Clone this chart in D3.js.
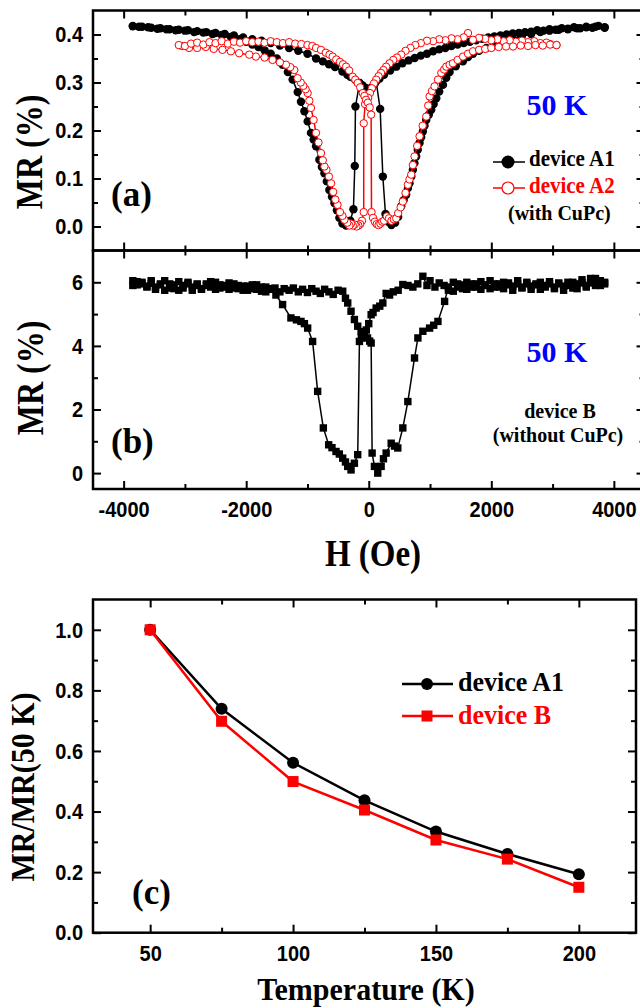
<!DOCTYPE html>
<html>
<head>
<meta charset="utf-8">
<script src="https://cdn.jsdelivr.net/npm/d3@7/dist/d3.min.js"></script>
<style>
body { margin: 0; background: #fff; }
svg { display: block; }
</style>
</head>
<body>
<div class="chart"></div>
<script>
// ---- data ----
// panel (a): device A1, field H (Oe) vs MR (%)
const a1Down = [[3850,.415],[3750,.418],[3650,.414],[3550,.416],[3450,.413],[3350,.415],[3250,.411],[3150,.413],[3050,.41],[2950,.411],[2850,.408],[2750,.409],[2650,.406],[2550,.405],[2450,.403],[2350,.402],[2250,.4],[2150,.398],[2050,.396],[1950,.394],[1850,.391],[1750,.388],[1650,.385],[1550,.382],[1450,.379],[1350,.376],[1250,.372],[1150,.369],[1050,.365],[950,.36],[850,.356],[750,.351],[650,.346],[550,.34],[450,.333],[350,.325],[250,.316],[175,.308],[100,.298],[50,.29],[0,.283],[-50,.288],[-100,.294],[-150,.299],[-217,.25],[-228,.126],[-250,.036],[-300,.012],[-370,.002],[-430,.006],[-480,.018],[-520,.034],[-561,.049],[-600,.062],[-643,.076],[-685,.094],[-724,.111],[-765,.124],[-806,.139],[-860,.167],[-900,.181],[-943,.195],[-997,.219],[-1050,.24],[-1106,.26],[-1160,.28],[-1243,.306],[-1320,.322],[-1406,.337],[-1500,.35],[-1600,.36],[-1700,.367],[-1800,.374],[-1900,.379],[-2000,.385],[-2100,.39],[-2250,.395],[-2400,.399],[-2550,.401],[-2700,.404],[-2850,.405],[-3000,.408],[-3150,.409],[-3300,.411],[-3450,.412],[-3600,.415],[-3750,.416],[-3850,.418]];
const a1Up = [[-3850,.417],[-3700,.416],[-3550,.414],[-3400,.413],[-3250,.411],[-3100,.41],[-2950,.409],[-2800,.407],[-2650,.405],[-2500,.403],[-2350,.401],[-2200,.398],[-2050,.394],[-1900,.39],[-1750,.387],[-1600,.382],[-1450,.377],[-1300,.372],[-1150,.366],[-1000,.36],[-860,.35],[-750,.344],[-650,.338],[-550,.332],[-430,.323],[-350,.316],[-300,.312],[-225,.306],[-152,.299],[-100,.293],[-50,.288],[0,.282],[50,.288],[121,.302],[186,.245],[230,.104],[273,.026],[320,.01],[370,.003],[430,.008],[480,.02],[530,.042],[570,.055],[611,.066],[640,.08],[665,.09],[695,.104],[720,.118],[745,.132],[774,.146],[800,.16],[829,.174],[855,.186],[883,.198],[910,.21],[938,.222],[980,.233],[1020,.243],[1060,.255],[1102,.267],[1150,.281],[1211,.295],[1265,.31],[1320,.322],[1420,.334],[1536,.344],[1620,.353],[1700,.36],[1800,.366],[1920,.372],[2050,.378],[2200,.385],[2350,.391],[2500,.397],[2650,.401],[2800,.405],[2950,.408],[3100,.41],[3250,.412],[3400,.413],[3550,.415],[3700,.416],[3850,.414]];
// panel (a): device A2 (with CuPc)
const a2Down = [[3064,.378],[2960,.38],[2900,.383],[2800,.382],[2700,.386],[2600,.384],[2500,.387],[2400,.385],[2300,.388],[2200,.386],[2100,.39],[2000,.388],[1900,.391],[1800,.393],[1700,.389],[1619,.403],[1550,.394],[1450,.39],[1350,.392],[1250,.388],[1150,.39],[1050,.386],[950,.387],[850,.382],[760,.378],[680,.372],[600,.366],[530,.358],[460,.352],[400,.347],[340,.34],[284,.333],[240,.326],[200,.32],[160,.313],[121,.306],[85,.298],[50,.288],[20,.278],[-10,.268],[-40,.262],[-60,.255],[-82,.215],[-82,.03],[-110,.012],[-140,.005],[-170,.002],[-200,0],[-230,.004],[-260,.002],[-290,.006],[-316,.002],[-350,.008],[-397,.014],[-430,.022],[-470,.03],[-510,.045],[-545,.056],[-580,.072],[-615,.09],[-650,.104],[-690,.118],[-724,.125],[-750,.138],[-779,.153],[-820,.175],[-860,.195],[-900,.222],[-943,.247],[-970,.262],[-997,.278],[-1030,.286],[-1068,.293],[-1110,.3],[-1161,.309],[-1215,.326],[-1280,.332],[-1351,.337],[-1450,.342],[-1570,.347],[-1700,.352],[-1842,.354],[-1950,.358],[-2115,.361],[-2250,.365],[-2387,.368],[-2530,.37],[-2660,.374],[-2800,.372],[-2932,.372],[-3050,.376]];
const a2Up = [[-3100,.378],[-3000,.376],[-2900,.381],[-2800,.383],[-2700,.379],[-2600,.384],[-2500,.382],[-2400,.386],[-2300,.381],[-2200,.385],[-2100,.383],[-2000,.386],[-1900,.384],[-1800,.385],[-1700,.383],[-1600,.386],[-1500,.384],[-1400,.382],[-1300,.384],[-1200,.381],[-1100,.38],[-1000,.378],[-920,.376],[-860,.372],[-780,.368],[-700,.362],[-640,.358],[-589,.354],[-530,.348],[-470,.343],[-420,.338],[-370,.333],[-320,.325],[-262,.312],[-220,.306],[-180,.299],[-140,.29],[-98,.278],[-70,.272],[-45,.264],[-15,.258],[15,.248],[39,.233],[45,.03],[70,.018],[100,.01],[130,.005],[160,.003],[190,.006],[220,.01],[250,.012],[295,.021],[330,.017],[370,.012],[410,.015],[448,.017],[480,.028],[520,.04],[556,.052],[600,.07],[638,.087],[665,.098],[693,.108],[720,.128],[747,.146],[790,.168],[829,.188],[880,.21],[938,.229],[970,.252],[993,.271],[1030,.282],[1074,.292],[1130,.306],[1184,.32],[1230,.327],[1265,.333],[1320,.337],[1374,.34],[1450,.347],[1538,.354],[1620,.36],[1701,.365],[1800,.368],[1900,.37],[2000,.372],[2120,.374],[2240,.375],[2355,.375],[2480,.377],[2600,.376],[2720,.378],[2840,.377],[2960,.379],[3064,.378]];
// panel (b): device B (without CuPc)
const bDown = [[3850,5.95],[3780,6.05],[3700,5.9],[3620,6.12],[3550,5.85],[3480,5.98],[3400,5.8],[3330,6.0],[3250,5.9],[3180,5.75],[3100,5.95],[3030,5.85],[2950,6.02],[2880,5.9],[2800,5.78],[2730,5.95],[2650,5.88],[2580,6.0],[2500,5.82],[2430,5.95],[2350,5.75],[2280,5.92],[2200,6.0],[2130,5.85],[2050,5.95],[1980,5.8],[1900,5.9],[1830,6.02],[1750,5.85],[1680,5.95],[1600,5.78],[1530,5.92],[1450,5.85],[1380,6.0],[1300,5.75],[1230,5.9],[1150,5.98],[1080,5.85],[1000,6.05],[950,5.9],[883,6.19],[800,5.95],[720,5.85],[640,5.9],[556,5.93],[480,5.75],[400,5.7],[340,5.6],[284,5.65],[230,5.35],[180,5.25],[121,5.19],[70,5.05],[39,4.98],[0,4.7],[-40,4.5],[-80,4.35],[-120,4.25],[-152,4.14],[-180,0.58],[-234,0.31],[-289,0.1],[-343,0.21],[-380,0.35],[-425,0.47],[-480,0.6],[-534,0.68],[-600,0.8],[-654,0.89],[-741,1.42],[-834,2.57],[-916,4.14],[-997,4.56],[-1050,4.7],[-1106,4.77],[-1180,4.82],[-1270,4.88],[-1406,5.3],[-1515,5.6],[-1600,5.8],[-1680,5.7],[-1750,5.85],[-1830,5.78],[-1900,5.92],[-1980,5.75],[-2050,5.88],[-2130,5.8],[-2200,5.95],[-2280,5.78],[-2350,5.9],[-2430,5.82],[-2500,6.0],[-2580,5.85],[-2650,5.95],[-2730,5.78],[-2800,5.9],[-2880,5.75],[-2950,5.95],[-3030,5.82],[-3100,6.02],[-3180,5.8],[-3250,5.95],[-3330,5.75],[-3400,5.92],[-3480,5.85],[-3550,6.05],[-3620,5.88],[-3700,5.95],[-3780,6.02],[-3850,5.9]];
const bUp = [[-3850,6.05],[-3780,5.92],[-3700,6.0],[-3620,5.85],[-3550,5.97],[-3480,5.78],[-3400,5.95],[-3330,6.05],[-3250,5.82],[-3180,5.92],[-3100,5.75],[-3030,5.9],[-2950,6.0],[-2880,5.85],[-2800,5.95],[-2730,5.8],[-2650,5.9],[-2580,6.02],[-2500,5.78],[-2430,5.92],[-2350,5.85],[-2280,5.98],[-2200,5.82],[-2130,5.9],[-2050,5.75],[-1980,5.88],[-1900,5.8],[-1830,5.92],[-1750,5.72],[-1680,5.85],[-1600,5.78],[-1530,5.82],[-1450,5.7],[-1380,5.8],[-1300,5.75],[-1230,5.82],[-1150,5.7],[-1080,5.78],[-1000,5.68],[-930,5.8],[-860,5.72],[-790,5.65],[-720,5.78],[-650,5.7],[-580,5.62],[-500,5.75],[-425,5.72],[-380,5.5],[-343,5.35],[-289,5.09],[-234,4.83],[-180,4.62],[-125,4.45],[-70,4.35],[-20,4.25],[15,4.15],[39,4.09],[55,0.63],[93,0.21],[147,0.0],[202,0.21],[240,0.45],[284,0.63],[366,0.94],[420,0.85],[474,0.79],[556,1.42],[638,2.25],[747,3.62],[802,4.25],[883,4.46],[993,4.56],[1060,4.65],[1129,4.77],[1238,5.4],[1300,5.85],[1380,5.72],[1450,5.95],[1530,5.8],[1600,6.0],[1680,5.85],[1750,5.95],[1830,5.78],[1900,5.92],[1980,6.05],[2050,5.85],[2130,5.95],[2200,5.8],[2280,5.98],[2350,5.88],[2430,6.05],[2500,5.85],[2580,5.95],[2650,5.78],[2730,5.92],[2800,6.0],[2880,5.85],[2950,5.95],[3030,5.8],[3100,5.98],[3180,5.88],[3250,6.0],[3330,5.82],[3400,5.95],[3480,6.08],[3550,5.9],[3620,5.98],[3700,6.12],[3780,5.9],[3850,6.0]];
// panel (c): normalised MR vs temperature
const temps = [50, 75, 100, 125, 150, 175, 200];
const normA1 = [1.0, 0.739, 0.561, 0.437, 0.334, 0.26, 0.193];
const normB = [1.0, 0.698, 0.499, 0.405, 0.306, 0.243, 0.15];

// ticks
const hTicks = [-4000, -2000, 0, 2000, 4000];
const hMinor = [-3000, -1000, 1000, 3000];
const aTicks = [0, 0.1, 0.2, 0.3, 0.4];
const aMinor = [0.05, 0.15, 0.25, 0.35];
const bTicks = [0, 2, 4, 6];
const bMinor = [1, 3, 5];
const tTicks = [50, 100, 150, 200];
const tMinor = [75, 125, 175];
const cTicks = [0, 0.2, 0.4, 0.6, 0.8, 1.0];
const cMinor = [0.1, 0.3, 0.5, 0.7, 0.9];

const SANS = "'Liberation Sans', Arial, sans-serif";
const SERIF = "'Liberation Serif', 'Times New Roman', serif";
const STRETCH = 1.13;  // glyphs in the figure are a bit taller than normal

const svg = d3.select(".chart").append("svg")
  .attr("width", 640).attr("height", 1008);
svg.append("rect").attr("width", 640).attr("height", 1008).attr("fill", "#fff");

// scales
const xH = d3.scaleLinear().domain([-4500, 4500]).range([93, 644.5]);
const yA = d3.scaleLinear().domain([-0.05, 0.45]).range([250.5, 10.5]);
const yB = d3.scaleLinear().domain([-0.5, 7]).range([489, 250.5]);
const xT = d3.scaleLinear().domain([30, 220]).range([93, 636]);
const yC = d3.scaleLinear().domain([0, 1.1]).range([932.7, 599.5]);

function styleAxis(g) {
  g.select(".domain").remove();
  g.selectAll("line").attr("stroke", "#000").attr("stroke-width", 2);
  g.selectAll("text").attr("font-family", SANS).attr("font-weight", "bold")
    .attr("font-size", 20).attr("fill", "#000")
    .attr("transform", `scale(1,${STRETCH})`);
}

// full set of inward ticks around a box
function frame(x, y, xt, xm, yt, ym, fmtX, fmtY, x0, x1, y0, y1) {
  const g = svg.append("g");
  g.append("g").attr("transform", `translate(0,${y1})`)
    .call(d3.axisBottom(x).tickValues(xt).tickSize(-8).tickPadding(11).tickFormat(fmtX || "")).call(styleAxis);
  g.append("g").attr("transform", `translate(0,${y1})`)
    .call(d3.axisBottom(x).tickValues(xm).tickSize(-5).tickFormat("")).call(styleAxis);
  g.append("g").attr("transform", `translate(0,${y0})`)
    .call(d3.axisTop(x).tickValues(xt).tickSize(-8).tickFormat("")).call(styleAxis);
  g.append("g").attr("transform", `translate(0,${y0})`)
    .call(d3.axisTop(x).tickValues(xm).tickSize(-5).tickFormat("")).call(styleAxis);
  g.append("g").attr("transform", `translate(${x0},0)`)
    .call(d3.axisLeft(y).tickValues(yt).tickSize(-8).tickPadding(10).tickFormat(fmtY)).call(styleAxis);
  g.append("g").attr("transform", `translate(${x0},0)`)
    .call(d3.axisLeft(y).tickValues(ym).tickSize(-5).tickFormat("")).call(styleAxis);
  g.append("g").attr("transform", `translate(${x1},0)`)
    .call(d3.axisRight(y).tickValues(yt).tickSize(-8).tickFormat("")).call(styleAxis);
  g.append("g").attr("transform", `translate(${x1},0)`)
    .call(d3.axisRight(y).tickValues(ym).tickSize(-5).tickFormat("")).call(styleAxis);
  g.append("rect").attr("x", x0).attr("y", y0).attr("width", x1 - x0).attr("height", y1 - y0)
    .attr("fill", "none").attr("stroke", "#000").attr("stroke-width", 2.5);
}

function label(txt, x, y, size, opts = {}) {
  const tr = `translate(${x},${y})` + (opts.rot ? " rotate(-90)" : "") + ` scale(1,${opts.k || STRETCH})`;
  return svg.append("text").attr("transform", tr)
    .attr("font-family", opts.sans ? SANS : SERIF).attr("font-weight", "bold")
    .attr("font-size", size).attr("fill", opts.color || "#000")
    .attr("text-anchor", opts.anchor || "start").text(txt);
}

// ---- panel (a) ----
const lineA = d3.line().x(d => xH(d[0])).y(d => yA(d[1]));
const pa = svg.append("g");
[a1Down, a1Up].forEach(s => {
  pa.append("path").datum(s).attr("d", lineA).attr("fill", "none").attr("stroke", "#000").attr("stroke-width", 1.5);
});
[a1Down, a1Up].forEach(s => {
  pa.append("g").selectAll("circle").data(s).enter().append("circle")
    .attr("cx", d => xH(d[0])).attr("cy", d => yA(d[1])).attr("r", 4.2).attr("fill", "#000");
});
[a2Down, a2Up].forEach(s => {
  pa.append("path").datum(s).attr("d", lineA).attr("fill", "none").attr("stroke", "#ff0000").attr("stroke-width", 1.5);
});
[a2Down, a2Up].forEach(s => {
  pa.append("g").selectAll("circle").data(s).enter().append("circle")
    .attr("cx", d => xH(d[0])).attr("cy", d => yA(d[1])).attr("r", 3.7)
    .attr("fill", "#fff").attr("stroke", "#ff0000").attr("stroke-width", 1);
});
frame(xH, yA, hTicks, hMinor, aTicks, aMinor, null, d3.format(".1f"), 93, 644.5, 10.5, 250.5);

// ---- panel (b) ----
const lineB = d3.line().x(d => xH(d[0])).y(d => yB(d[1]));
const pb = svg.append("g");
[bDown, bUp].forEach(s => {
  pb.append("path").datum(s).attr("d", lineB).attr("fill", "none").attr("stroke", "#000").attr("stroke-width", 1.5);
  pb.append("g").selectAll("rect").data(s).enter().append("rect")
    .attr("x", d => xH(d[0]) - 3.7).attr("y", d => yB(d[1]) - 3.7)
    .attr("width", 7.4).attr("height", 7.4).attr("fill", "#000");
});
frame(xH, yB, hTicks, hMinor, bTicks, bMinor, d => String(d), d => String(d), 93, 644.5, 250.5, 489);

// ---- panel (c) ----
const lineC = d3.line().x(d => xT(d[0])).y(d => yC(d[1]));
const sA1 = temps.map((t, i) => [t, normA1[i]]);
const sB = temps.map((t, i) => [t, normB[i]]);
svg.append("path").datum(sA1).attr("d", lineC).attr("fill", "none").attr("stroke", "#000").attr("stroke-width", 2.5);
svg.append("g").selectAll("circle").data(sA1).enter().append("circle")
  .attr("cx", d => xT(d[0])).attr("cy", d => yC(d[1])).attr("r", 6).attr("fill", "#000");
svg.append("path").datum(sB).attr("d", lineC).attr("fill", "none").attr("stroke", "#ff0000").attr("stroke-width", 2.5);
svg.append("g").selectAll("rect").data(sB).enter().append("rect")
  .attr("x", d => xT(d[0]) - 5.5).attr("y", d => yC(d[1]) - 5.5)
  .attr("width", 11).attr("height", 11).attr("fill", "#ff0000");
frame(xT, yC, tTicks, tMinor, cTicks, cMinor, d => String(d), d3.format(".1f"), 93, 636, 599.5, 932.7);

// ---- titles and annotations ----
label("MR (%)", 42, 152, 32, { anchor: "middle", rot: true, k: 1.2 });
label("MR (%)", 43, 378, 32, { anchor: "middle", rot: true, k: 1.2 });
label("H (Oe)", 373, 566, 33, { anchor: "middle", k: 1.18 });
label("MR/MR(50 K)", 34, 787, 30, { anchor: "middle", rot: true, k: 1.1 });
label("Temperature (K)", 366, 1000, 30, { anchor: "middle", k: 1.05 });
label("(a)", 111, 206, 35, { k: 1.0 });
label("(b)", 111, 453, 35, { k: 1.0 });
label("(c)", 132, 904, 35, { k: 1.0 });
label("50 K", 557, 115, 30, { anchor: "middle", color: "#0000ff", k: 1.0 });
label("50 K", 557, 362, 30, { anchor: "middle", color: "#0000ff", k: 1.0 });

// legend (a)
svg.append("line").attr("x1", 493).attr("x2", 525).attr("y1", 162).attr("y2", 162).attr("stroke", "#000").attr("stroke-width", 1.5);
svg.append("circle").attr("cx", 508).attr("cy", 162).attr("r", 6.5).attr("fill", "#000");
svg.append("line").attr("x1", 493).attr("x2", 525).attr("y1", 188).attr("y2", 188).attr("stroke", "#ff0000").attr("stroke-width", 1.5);
svg.append("circle").attr("cx", 508).attr("cy", 188).attr("r", 6).attr("fill", "#fff").attr("stroke", "#ff0000").attr("stroke-width", 1.2);
label("device A1", 529, 166, 21, { k: 1.05 });
label("device A2", 529, 193, 21, { color: "#ff0000", k: 1.05 });
label("(with CuPc)", 508, 220, 20, { k: 1.05 });

// legend (b)
label("device B", 560, 418, 20, { anchor: "middle", k: 1.05 });
label("(without CuPc)", 558, 442, 20, { anchor: "middle", k: 1.05 });

// legend (c)
svg.append("line").attr("x1", 402).attr("x2", 453).attr("y1", 684).attr("y2", 684).attr("stroke", "#000").attr("stroke-width", 2.5);
svg.append("circle").attr("cx", 427).attr("cy", 684).attr("r", 6).attr("fill", "#000");
svg.append("line").attr("x1", 402).attr("x2", 453).attr("y1", 716).attr("y2", 716).attr("stroke", "#ff0000").attr("stroke-width", 2.5);
svg.append("rect").attr("x", 421.5).attr("y", 710.5).attr("width", 11).attr("height", 11).attr("fill", "#ff0000");
label("device A1", 458, 691, 26, { k: 1.05 });
label("device B", 458, 724, 26, { color: "#ff0000", k: 1.05 });
</script>
</body>
</html>
